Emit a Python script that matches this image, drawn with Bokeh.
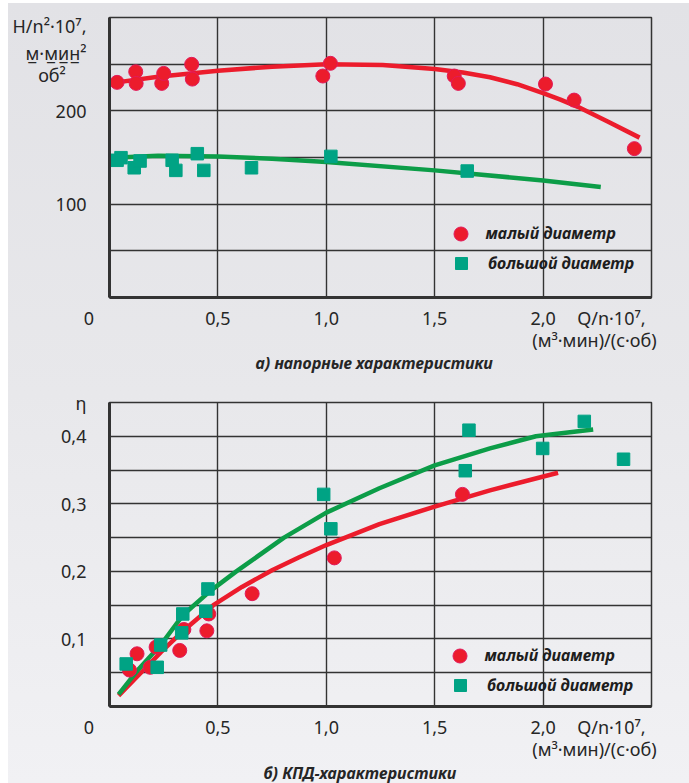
from bokeh.plotting import figure
from bokeh.models import Legend, LegendItem, FixedTicker, Range1d, Title, LinearAxis
from bokeh.layouts import column
from bokeh.embed import file_html
from bokeh.resources import INLINE

# ---------------- data ----------------
# a) head characteristics  H/n^2*10^7
x_h_small = [0.035, 0.121, 0.123, 0.241, 0.250, 0.379, 0.382, 0.984, 1.019, 1.590, 1.609, 2.011, 2.143, 2.421]
h_small = [230.5, 241.9, 229.4, 229.4, 240.1, 249.8, 234.0, 237.3, 250.9, 237.3, 229.4, 228.7, 211.5, 159.5]
x_h_large = [0.035, 0.053, 0.114, 0.141, 0.289, 0.306, 0.405, 0.435, 0.655, 1.021, 1.650]
h_large = [147.0, 149.8, 139.0, 146.2, 147.0, 136.2, 154.1, 136.2, 139.0, 151.2, 135.5]
fit_h_small_x = [0.0, 0.224, 0.5, 0.75, 1.0, 1.26, 1.5, 1.63, 1.755, 1.88, 2.0, 2.08, 2.16, 2.30, 2.445]
fit_h_small_y = [229.4, 236.5, 243.0, 247.3, 249.8, 249.0, 244.8, 241.0, 236.0, 228.5, 219.0, 212.0, 204.3, 188.2, 171.3]
fit_h_large_x = [0.012, 0.224, 0.5, 0.75, 1.0, 1.5, 2.0, 2.266]
fit_h_large_y = [149.8, 152.0, 151.2, 148.7, 145.2, 136.2, 125.4, 118.3]

# b) efficiency characteristics  eta
x_eta_small = [0.092, 0.127, 0.188, 0.215, 0.324, 0.343, 0.449, 0.458, 0.658, 1.037, 1.628]
eta_small = [0.054, 0.078, 0.058, 0.088, 0.083, 0.114, 0.112, 0.137, 0.167, 0.220, 0.314]
x_eta_large = [0.077, 0.220, 0.236, 0.333, 0.338, 0.444, 0.454, 0.988, 1.021, 1.641, 1.658, 1.998, 2.190, 2.371]
eta_large = [0.063, 0.058, 0.091, 0.109, 0.137, 0.141, 0.174, 0.314, 0.263, 0.349, 0.409, 0.382, 0.422, 0.366]
fit_eta_small_x = [0.042, 0.136, 0.236, 0.347, 0.479, 0.611, 0.752, 0.875, 1.0, 1.245, 1.5, 1.755, 2.069]
fit_eta_small_y = [0.016, 0.047, 0.080, 0.114, 0.150, 0.177, 0.202, 0.221, 0.239, 0.270, 0.296, 0.320, 0.346]
fit_eta_large_x = [0.042, 0.136, 0.236, 0.338, 0.461, 0.585, 0.805, 1.0, 1.245, 1.5, 1.755, 1.967, 2.231]
fit_eta_large_y = [0.018, 0.056, 0.091, 0.135, 0.170, 0.200, 0.250, 0.287, 0.323, 0.357, 0.382, 0.400, 0.410]

x_ticks = [0.0, 0.5, 1.0, 1.5, 2.0]
x_tick_labels = ["0", "0,5", "1,0", "1,5", "2,0"]
x_grid = [0.5, 1.0, 1.5, 2.0]
h_ticks = [100, 200]
h_tick_labels = ["100", "200"]
h_grid = [50, 100, 150, 200, 250]
eta_ticks = [0.1, 0.2, 0.3, 0.4]
eta_tick_labels = ["0,1", "0,2", "0,3", "0,4"]
eta_grid = [0.05, 0.1, 0.15, 0.2, 0.25, 0.3, 0.35, 0.4]

x_title = "Q/n·10⁷,"
x_units = "(м³·мин)/(с·об)"
h_title = ["H/n²·10⁷,", "м\u0332·м\u0332и\u0332н\u0332²", "об²"]
eta_title = "η"
caption_a = "а) напорные характеристики"
caption_b = "б) КПД-характеристики"
legend_small = "малый диаметр"
legend_large = "большой диаметр"

# ---------------- style ----------------
RED = "#ec1c2c"
RED_EDGE = "#e21a5a"
GREEN_LINE = "#0c9d48"
GREEN_SQ = "#00a384"
GRID = "#333333"
TXT = "#262626"
FONT = "Noto Sans"
TICK_FS = "18px"
FS = "\u2007"          # figure space, used to nudge labels sideways
OX, OY = 8, 3          # page offset of the grey panel

# positions (in axis units) where the side texts are anchored
X_TITLE_AT = 2.315
X_UNITS_AT = 2.237
H_TITLE_AT = [290.4, 262.5, 237.9]
ETA_TITLE_AT = 0.4499


def make_fig(ymax, frame_h, top, bottom, yticks, ylabels, ygrid, caption, cap_offset, cap_standoff):
    p = figure(frame_width=542, frame_height=frame_h,
               min_border_left=101, min_border_right=38,
               min_border_top=top, min_border_bottom=bottom,
               x_range=Range1d(0, 2.5), y_range=Range1d(0, ymax),
               output_backend="svg", toolbar_location=None,
               background_fill_color=None, border_fill_color=None,
               outline_line_color=GRID, outline_line_width=1.5)
    for ax in (p.xaxis, p.yaxis):
        ax.major_tick_line_color = None
        ax.minor_tick_line_color = None
        ax.axis_line_color = GRID
        ax.axis_line_width = 3
        ax.major_label_text_font = FONT
        ax.major_label_text_font_size = TICK_FS
        ax.major_label_text_color = TXT
    # x axis: tick labels, origin "0" nudged left, and the quantity name
    xt = x_ticks + [X_TITLE_AT]
    xl = [x_tick_labels[0] + FS * 4] + x_tick_labels[1:] + [x_title]
    p.xaxis.ticker = FixedTicker(ticks=xt)
    p.xaxis.major_label_overrides = dict(zip(xt, xl))
    p.xaxis.major_label_standoff = 2
    # second row under the x axis: units
    ax2 = LinearAxis(ticker=FixedTicker(ticks=[X_UNITS_AT]),
                     major_label_overrides={X_UNITS_AT: x_units},
                     axis_line_color=None, major_tick_line_color=None,
                     minor_tick_line_color=None, major_label_standoff=-11,
                     major_label_text_font=FONT, major_label_text_font_size=TICK_FS,
                     major_label_text_color=TXT)
    p.add_layout(ax2, "below")
    p.yaxis.ticker = FixedTicker(ticks=yticks)
    p.yaxis.major_label_overrides = dict(zip(yticks, ylabels))
    p.yaxis.major_label_standoff = 17
    p.xgrid.ticker = FixedTicker(ticks=x_grid)
    p.ygrid.ticker = FixedTicker(ticks=ygrid)
    for g in (p.xgrid, p.ygrid):
        g.grid_line_color = GRID
        g.grid_line_width = 1.4
        g.grid_line_alpha = 1.0
    p.add_layout(Title(text=caption, align="left", offset=cap_offset, standoff=cap_standoff,
                       text_font=FONT, text_font_style="bold italic",
                       text_font_size="16px", text_color=TXT), "below")
    return p


def add_legend(p, renderer, text, loc, glyph, standoff):
    leg = Legend(items=[LegendItem(label=text, renderers=[renderer])],
                 location=loc, glyph_width=glyph, glyph_height=glyph,
                 label_standoff=standoff, padding=0, margin=0,
                 border_line_color=None, background_fill_alpha=0,
                 label_text_font=FONT, label_text_font_style="bold italic",
                 label_text_font_size="16px", label_text_color="#1e1e1e")
    p.add_layout(leg)


# ---------------- panel a ----------------
yt1 = h_ticks + H_TITLE_AT
yl1 = h_tick_labels + [h_title[0], h_title[1], h_title[2] + FS * 2]
p1 = make_fig(300, 280, 14, 83, yt1, yl1, h_grid, caption_a, 146, -10)

p1.line(fit_h_small_x, fit_h_small_y, line_color=RED, line_width=4.5)
p1.line(fit_h_large_x, fit_h_large_y, line_color=GREEN_LINE, line_width=4.5)
r_small1 = p1.scatter(x_h_small, h_small, marker="circle", size=14,
                      fill_color=RED, line_color=RED_EDGE, line_width=1)
r_large1 = p1.scatter(x_h_large, h_large, marker="square", size=12.5,
                      fill_color=GREEN_SQ, line_color=GREEN_SQ, line_width=1)
add_legend(p1, r_small1, legend_small, (333.5, 46.5), 35, 8)
add_legend(p1, r_large1, legend_large, (337.0, 19.0), 30, 12)

# ---------------- panel b ----------------
yt2 = eta_ticks + [ETA_TITLE_AT]
yl2 = eta_tick_labels + [eta_title]
p2 = make_fig(0.45, 304, 22, 77, yt2, yl2, eta_grid, caption_b, 154, -7)

p2.line(fit_eta_small_x, fit_eta_small_y, line_color=RED, line_width=4.5)
p2.line(fit_eta_large_x, fit_eta_large_y, line_color=GREEN_LINE, line_width=4.5)
r_small2 = p2.scatter(x_eta_small, eta_small, marker="circle", size=14,
                      fill_color=RED, line_color=RED_EDGE, line_width=1)
r_large2 = p2.scatter(x_eta_large, eta_large, marker="square", size=12.5,
                      fill_color=GREEN_SQ, line_color=GREEN_SQ, line_width=1)
add_legend(p2, r_small2, legend_small, (332.5, 33.5), 35, 8)
add_legend(p2, r_large2, legend_large, (336.0, 6.0), 30, 12)

layout = column(p1, p2, spacing=0, margin=(OY, 0, 0, OX),
                styles={"background": "linear-gradient(180deg, #e2e2e6 0%, #e8e8eb 50%, #f1f1f4 100%)"})

open("out.html", "w").write(file_html(layout, INLINE))
